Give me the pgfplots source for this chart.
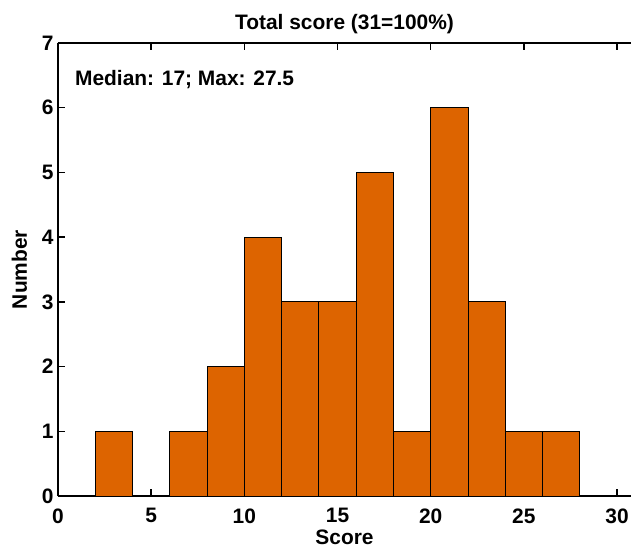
\documentclass[border=0pt]{standalone}
\usepackage{pgfplots}
\pgfplotsset{compat=1.18}
\usepackage{fontspec}
\setmainfont{Liberation Sans}
\definecolor{barorange}{RGB}{221,100,0}
\begin{document}
\begin{tikzpicture}
\begin{axis}[
  scale only axis,
  width=573bp, height=453bp,
  xmin=0, xmax=30.75, ymin=0, ymax=7,
  xtick={0,5,...,30}, ytick={0,1,...,7},
  axis y line*=left,
  y axis line style={-},
  tick align=inside,
  major tick length=7bp,
  axis line style={line width=1.5pt},
  every tick/.style={black, line width=1.5pt},
  /pgf/number format/assume math mode=true,
  ticklabel style={font=\fontsize{21}{23}\selectfont\bfseries},
  yticklabel style={xshift=-1bp},
  xticklabel style={yshift=-9bp},
  label style={font=\fontsize{21}{23}\selectfont\bfseries},
  title style={font=\fontsize{21}{23}\selectfont\bfseries, yshift=0bp},
  xtick pos=both, ytick pos=left,
  xlabel={Score}, ylabel={Number},
  title={Total score (31=100\%)},
  xlabel style={yshift=0bp},
  ylabel style={yshift=8bp},
]
\addplot[ybar, bar width=2, bar shift=0, fill=barorange, draw=black, line width=0.8pt]
  coordinates {(3,1) (7,1) (9,2) (11,4) (13,3) (15,3) (17,5) (19,1) (21,6) (23,3) (25,1) (27,1)};
\node[anchor=base west, inner sep=0pt, font=\fontsize{21}{23}\selectfont\bfseries] at (axis cs:0.91,6.35) {Median: 17; Max: 27.5};
\end{axis}
\pgfresetboundingbox
\useasboundingbox ([xshift=-58bp,yshift=-52bp]current axis.south west) rectangle ([yshift=43bp]current axis.north east);
\end{tikzpicture}
\end{document}
